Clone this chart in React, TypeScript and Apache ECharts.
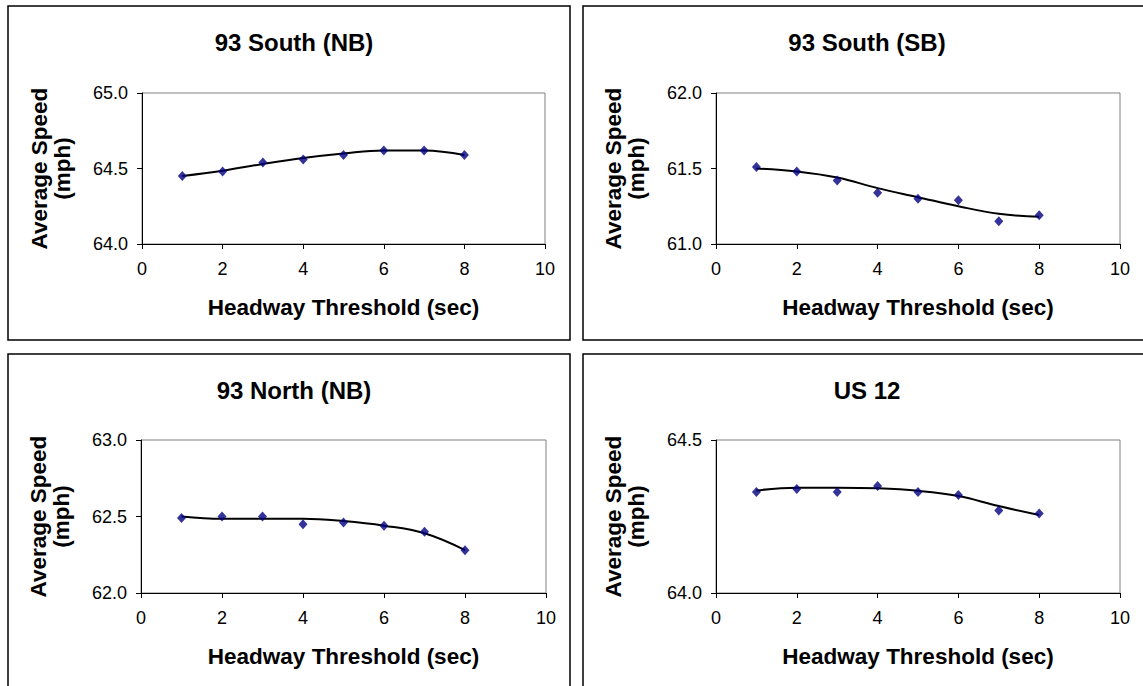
import React, { useEffect, useRef } from "react";
import * as echarts from "echarts";

// Headway threshold (sec) for every observation
const thresholds = [1, 2, 3, 4, 5, 6, 7, 8];

// Panel titles
const titles = ["93 South (NB)", "93 South (SB)", "93 North (NB)", "US 12"];

// Average speed (mph) per threshold
const southNB = [64.45, 64.48, 64.54, 64.56, 64.59, 64.62, 64.62, 64.59];
const southSB = [61.51, 61.48, 61.42, 61.34, 61.3, 61.29, 61.15, 61.19];
const northNB = [62.49, 62.5, 62.5, 62.45, 62.46, 62.44, 62.4, 62.28];
const us12 = [64.33, 64.34, 64.33, 64.35, 64.33, 64.32, 64.27, 64.26];

// Polynomial trend line values at each threshold
const southNBTrend = [64.45, 64.485, 64.53, 64.57, 64.6, 64.62, 64.62, 64.59];
const southSBTrend = [61.5, 61.48, 61.44, 61.37, 61.31, 61.25, 61.2, 61.18];
const northNBTrend = [62.5, 62.485, 62.485, 62.485, 62.47, 62.44, 62.39, 62.28];
const us12Trend = [64.335, 64.344, 64.344, 64.342, 64.334, 64.317, 64.284, 64.255];

// Y-axis ranges [min, max, step]
const yRanges = [
  [64.0, 65.0, 0.5],
  [61.0, 62.0, 0.5],
  [62.0, 63.0, 0.5],
  [64.0, 64.5, 0.5],
];

// X-axis range
const xMin = 0;
const xMax = 10;
const xStep = 2;

const speeds = [southNB, southSB, northNB, us12];
const trends = [southNBTrend, southSBTrend, northNBTrend, us12Trend];

// Layout of the four panels
const grids = [
  { left: 142, top: 93, width: 403, height: 151 },
  { left: 716, top: 93, width: 404, height: 151 },
  { left: 141, top: 440, width: 405, height: 153 },
  { left: 716, top: 440, width: 404, height: 153 },
];
const titleCenters = [
  { x: 289, y: 37 },
  { x: 862, y: 37 },
  { x: 289, y: 385 },
  { x: 862, y: 385 },
];
const frames = [
  { x: 8, y: 6, width: 562, height: 334 },
  { x: 583, y: 6, width: 620, height: 334 },
  { x: 8, y: 354, width: 562, height: 400 },
  { x: 583, y: 354, width: 620, height: 400 },
];

const FONT = "'Liberation Sans', Arial, sans-serif";

export default function App() {
  const ref = useRef<HTMLDivElement>(null);

  useEffect(() => {
    if (!ref.current) return;
    const chart = echarts.init(ref.current, undefined, { renderer: "svg" });

    const option: any = {
      animation: false,
      backgroundColor: "#ffffff",
      textStyle: { fontFamily: FONT },
      title: titles.map((t, i) => ({
        text: t,
        left: titleCenters[i].x,
        top: titleCenters[i].y,
        textAlign: "center",
        textVerticalAlign: "middle",
        textStyle: {
          fontFamily: FONT,
          fontSize: 24,
          fontWeight: "bold",
          color: "#000",
        },
      })),
      graphic: frames.map((f) => ({
        type: "rect",
        shape: f,
        style: { fill: "none", stroke: "#000", lineWidth: 1.5 },
        silent: true,
        z: 0,
      })),
      grid: grids.map((g) => ({
        ...g,
        show: true,
        borderColor: "#808080",
        borderWidth: 1,
        backgroundColor: "transparent",
      })),
      xAxis: grids.map((_, i) => ({
        type: "value",
        gridIndex: i,
        min: xMin,
        max: xMax,
        interval: xStep,
        name: "Headway Threshold (sec)",
        nameLocation: "middle",
        nameGap: 52,
        nameTextStyle: {
          fontFamily: FONT,
          fontSize: 22.5,
          fontWeight: "bold",
          color: "#000",
        },
        axisLine: { show: true, onZero: false, lineStyle: { color: "#000", width: 1 } },
        axisTick: { show: true, inside: false, length: 5, lineStyle: { color: "#000" } },
        axisLabel: {
          margin: 16,
          fontFamily: FONT,
          fontSize: 18,
          color: "#000",
        },
        splitLine: { show: false },
      })),
      yAxis: grids.map((_, i) => ({
        type: "value",
        gridIndex: i,
        min: yRanges[i][0],
        max: yRanges[i][1],
        interval: yRanges[i][2],
        name: "Average Speed\n(mph)",
        nameLocation: "middle",
        nameRotate: 90,
        nameGap: 68,
        nameTextStyle: {
          fontFamily: FONT,
          fontSize: 22.5,
          fontWeight: "bold",
          color: "#000",
          lineHeight: 23,
          align: "center",
        },
        axisLine: { show: true, onZero: false, lineStyle: { color: "#000", width: 1 } },
        axisTick: { show: true, inside: false, length: 5, lineStyle: { color: "#000" } },
        axisLabel: {
          margin: 14,
          fontFamily: FONT,
          fontSize: 18,
          color: "#000",
          formatter: (v: number) => v.toFixed(1),
        },
        splitLine: { show: false },
      })),
      series: [
        ...trends.map((tr, i) => ({
          type: "line",
          xAxisIndex: i,
          yAxisIndex: i,
          data: thresholds.map((x, k) => [x, tr[k]]),
          smooth: 0.4,
          showSymbol: false,
          symbol: "none",
          lineStyle: { color: "#000", width: 2 },
          z: 2,
          silent: true,
        })),
        ...speeds.map((sp, i) => ({
          type: "scatter",
          xAxisIndex: i,
          yAxisIndex: i,
          data: thresholds.map((x, k) => [x, sp[k]]),
          symbol: "diamond",
          symbolSize: [9, 10],
          itemStyle: { color: "#000080" },
          z: 3,
        })),
      ],
    };

    chart.setOption(option);
    return () => chart.dispose();
  }, []);

  return (
    <div
      ref={ref}
      style={{ position: "fixed", left: 0, top: 0, width: 1143, height: 686 }}
    />
  );
}
